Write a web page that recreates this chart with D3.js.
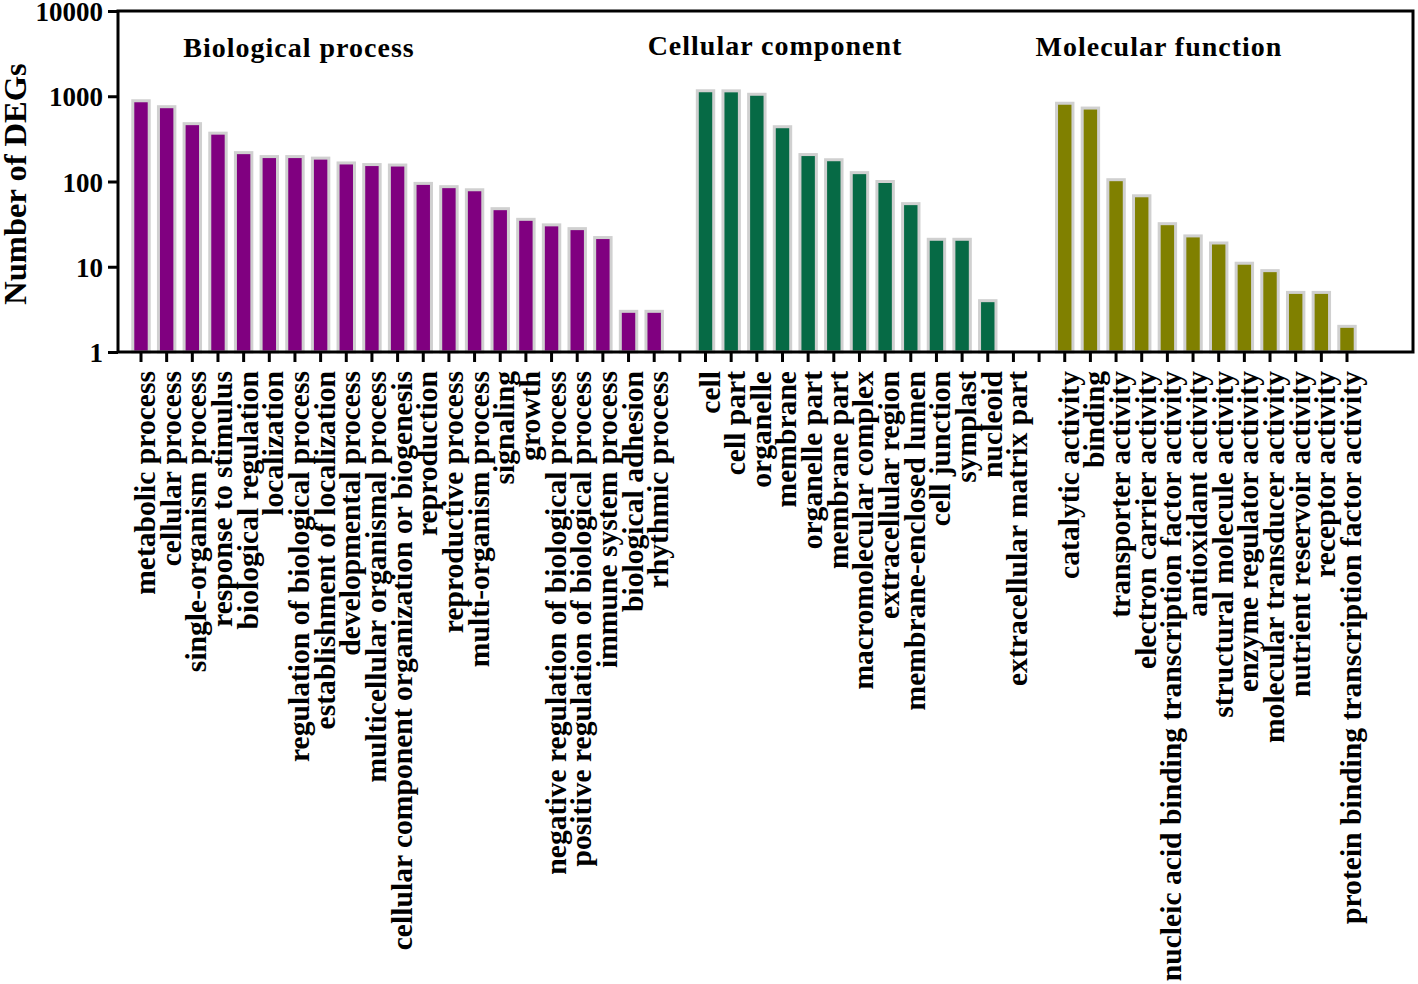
<!DOCTYPE html>
<html>
<head>
<meta charset="utf-8">
<script src="https://cdn.jsdelivr.net/npm/d3@7"></script>
<style>
  html, body { margin: 0; padding: 0; background: #ffffff; }
  svg { display: block; }
  text { font-family: "Liberation Serif", "Times New Roman", serif; font-weight: bold; fill: #000; }
</style>
</head>
<body>
<svg id="chart" width="1418" height="984"></svg>
<script>
// ---- data ----
const bpCategories = ["metabolic process", "cellular process", "single-organism process", "response to stimulus",
  "biological regulation", "localization", "regulation of biological process", "establishment of localization",
  "developmental process", "multicellular organismal process", "cellular component organization or biogenesis",
  "reproduction", "reproductive process", "multi-organism process", "signaling", "growth",
  "negative regulation of biological process", "positive regulation of biological process",
  "immune system process", "biological adhesion", "rhythmic process"];
const bpValues = [885, 754, 477, 369, 218, 196, 196, 188, 165, 158, 156, 95, 87, 80, 48, 36, 31, 28, 22, 3, 3];

const ccCategories = ["cell", "cell part", "organelle", "membrane", "organelle part", "membrane part",
  "macromolecular complex", "extracellular region", "membrane-enclosed lumen", "cell junction", "symplast",
  "nucleoid", "extracellular matrix part"];
const ccValues = [1160, 1157, 1055, 439, 207, 180, 127, 100, 55, 21, 21, 4, 0];

const mfCategories = ["catalytic activity", "binding", "transporter activity", "electron carrier activity",
  "nucleic acid binding transcription factor activity", "antioxidant activity", "structural molecule activity",
  "enzyme regulator activity", "molecular transducer activity", "nutrient reservoir activity",
  "receptor activity", "protein binding transcription factor activity"];
const mfValues = [828, 727, 105, 68, 32, 23, 19, 11, 9, 5, 5, 2];

const groupTitles = ["Biological process", "Cellular component", "Molecular function"];
const yTickValues = [1, 10, 100, 1000, 10000];
const yTitle = "Number of DEGs";

// ---- build table ----
const groups = [
  { cats: bpCategories, vals: bpValues, color: "#800080" },
  { cats: ccCategories, vals: ccValues, color: "#066A45" },
  { cats: mfCategories, vals: mfValues, color: "#808000" }
];
const rows = [];
groups.forEach((g, gi) => {
  g.cats.forEach((c, i) => rows.push({ key: "g" + gi + "_" + i, label: c, value: g.vals[i], color: g.color }));
  if (gi < groups.length - 1) rows.push({ key: "gap" + gi, label: "", value: 0, color: "none" });
});

// ---- layout ----
const frame = { left: 118, right: 1413, top: 11, bottom: 352 };
const svg = d3.select("#chart");

const x = d3.scaleBand()
  .domain(rows.map(d => d.key))
  .range([128.17, 1359.83])
  .paddingInner(0.36)
  .paddingOuter(0.18);

const y = d3.scaleLog()
  .domain([1, 10000])
  .range([frame.bottom, frame.top]);

// bars
svg.append("g").selectAll("rect")
  .data(rows.filter(d => d.value > 1))
  .join("rect")
  .attr("x", d => x(d.key))
  .attr("width", x.bandwidth())
  .attr("y", d => y(d.value))
  .attr("height", d => y(1) - y(d.value))
  .attr("fill", d => d.color)
  .attr("stroke", "#d0d0d0")
  .attr("stroke-width", 3);

// y axis
const yAxis = svg.append("g")
  .attr("transform", `translate(${frame.left},0)`)
  .call(d3.axisLeft(y).tickValues(yTickValues).tickFormat(d3.format("d")).tickSize(10).tickPadding(5));
yAxis.select(".domain").remove();
yAxis.selectAll(".tick line").attr("stroke", "#000").attr("stroke-width", 3);
yAxis.selectAll(".tick text").style("font-size", "27px").attr("dy", "0.36em");

// x axis
const labelMap = new Map(rows.map(d => [d.key, d.label]));
const xAxis = svg.append("g")
  .attr("transform", `translate(0,${frame.bottom})`)
  .call(d3.axisBottom(x).tickFormat(k => labelMap.get(k)).tickSize(10).tickPadding(0));
xAxis.select(".domain").remove();
xAxis.selectAll(".tick line").attr("stroke", "#000").attr("stroke-width", 3);
xAxis.selectAll(".tick text")
  .style("font-size", "29.6px")
  .attr("transform", "rotate(-90)")
  .attr("text-anchor", "end")
  .attr("x", -19)
  .attr("y", 0)
  .attr("dy", "14px");

// frame
svg.append("rect")
  .attr("x", frame.left)
  .attr("y", frame.top)
  .attr("width", frame.right - frame.left)
  .attr("height", frame.bottom - frame.top)
  .attr("fill", "none")
  .attr("stroke", "#000")
  .attr("stroke-width", 3);

// group titles
const titlePos = [{ cx: 299, by: 57 }, { cx: 775, by: 55 }, { cx: 1159, by: 56 }];
svg.append("g").selectAll("text")
  .data(groupTitles)
  .join("text")
  .attr("x", (d, i) => titlePos[i].cx)
  .attr("y", (d, i) => titlePos[i].by)
  .attr("text-anchor", "middle")
  .style("font-size", "28px")
  .style("letter-spacing", "1px")
  .text(d => d);

// y title
svg.append("text")
  .attr("transform", "translate(26,184) rotate(-90)")
  .attr("text-anchor", "middle")
  .style("font-size", "32.5px")
  .text(yTitle);
</script>
</body>
</html>
